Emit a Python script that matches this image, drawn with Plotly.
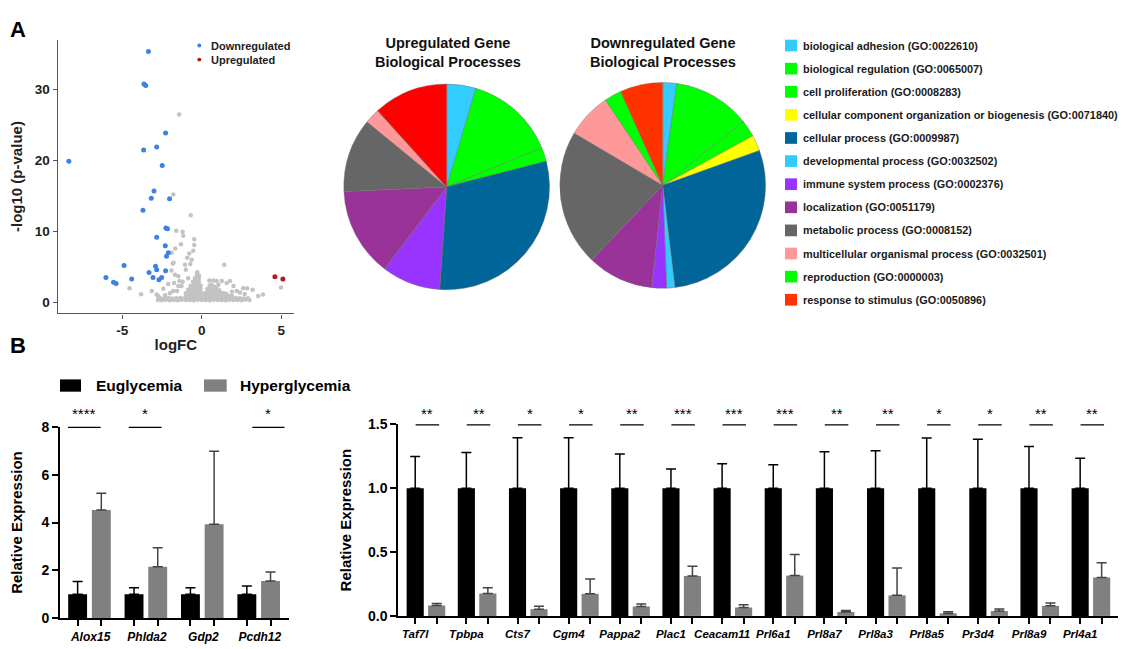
import plotly.graph_objects as go

# The page body has an 8px margin, so the figure is sized to fit the window after that offset.
OFF_X, OFF_Y = 8, 8
W, H = 1126 - OFF_X, 649 - OFF_Y


def px(x):
    return (x - OFF_X) / W


def py(y):
    return 1 - (y - OFF_Y) / H


# ---------------- DATA ----------------
# Volcano plot (logFC, -log10 p)
down_fc = [-3.35, -3.63, -3.52, -8.35, -2.27, -3.65, -2.83, -2.48, -3.0, -3.17, -2.02, -3.69, -2.25, -2.15,
           -2.83, -2.29, -2.1, -2.21, -4.88, -2.9, -2.83, -3.31, -2.27, -6.02, -4.4, -3.06, -2.52, -2.69,
           -5.54, -5.38]
down_p = [35.4, 30.8, 30.6, 19.9, 23.9, 21.5, 21.9, 19.3, 15.7, 14.7, 14.6, 13.0, 10.5, 10.4,
          9.2, 8.0, 7.0, 6.5, 5.2, 5.1, 4.6, 4.2, 4.45, 3.5, 3.3, 3.5, 3.5, 3.2,
          2.85, 2.65]
up_fc = [4.6, 5.1]
up_p = [3.6, 3.3]
ns_points = [
    # scattered non-significant genes
    (-1.42, 26.5), (-1.79, 15.2), (-0.69, 12.3), (-1.6, 10.1), (-1.2, 9.96), (-1.16, 9.4), (-0.47, 8.9),
    (-1.3, 8.2), (-0.47, 8.1), (-1.66, 7.6), (-0.53, 7.3), (-1.89, 7.0), (-0.78, 6.9), (-0.91, 6.3),
    (-0.63, 6.0), (-1.82, 5.5), (1.42, 5.3), (-1.05, 5.3), (-0.72, 5.4), (-2.41, 1.93), (-1.68, 3.9),
    (-1.47, 3.7), (-1.74, 2.75), (-1.4, 3.0), (-1.2, 2.9), (-1.47, 2.3), (-1.27, 2.3), (0.48, 3.08),
    (0.73, 3.08), (0.94, 3.0), (1.05, 2.5), (1.26, 3.0), (1.57, 2.75), (1.78, 3.0), (2.0, 2.3), (2.6, 2.0),
    (2.85, 2.0), (3.2, 1.8), (3.55, 0.9), (3.85, 1.1), (0.94, 2.0), (2.2, 1.6), (2.4, 1.4), (4.98, 2.1),
    (-3.14, 1.6), (-2.83, 1.1), (-2.72, 0.87), (-2.0, 1.3), (-1.8, 1.6), (-4.54, 2.0), (-3.81, 1.15),
    (-1.77, 5.6), (-1.9, 4.5), (-2.1, 2.6), (-1.0, 4.6), (-0.85, 3.4), (1.9, 1.5), (2.7, 1.2), (-2.3, 1.0),
    (-1.55, 1.6),
    # dense base of the cloud
    (-2.75, 0.35), (-2.5, 0.3), (-2.25, 0.38), (-2.0, 0.3), (-1.75, 0.35), (-1.5, 0.3), (-1.25, 0.38),
    (-1.0, 0.32), (-0.75, 0.35), (-0.5, 0.3), (-0.25, 0.38), (0.0, 0.32), (0.25, 0.35), (0.5, 0.3),
    (0.75, 0.38), (1.0, 0.32), (1.25, 0.35), (1.5, 0.3), (1.75, 0.38), (2.0, 0.32), (2.25, 0.35),
    (2.5, 0.3), (2.75, 0.38), (3.0, 0.35),
    (-2.6, 0.58), (-2.35, 0.55), (-2.1, 0.62), (-1.85, 0.55), (-1.6, 0.58), (-1.35, 0.62), (-1.1, 0.55),
    (-0.85, 0.58), (-0.6, 0.55), (-0.35, 0.62), (-0.1, 0.58), (0.15, 0.55), (0.4, 0.62), (0.65, 0.55),
    (0.9, 0.58), (1.15, 0.62), (1.4, 0.55), (1.65, 0.58), (1.9, 0.55), (2.15, 0.62), (2.4, 0.58),
    (2.65, 0.55), (2.9, 0.58),
    # main peak near logFC -0.3
    (-1.0, 0.9), (-1.0, 1.3), (-0.85, 0.9), (-0.85, 1.4), (-0.85, 1.8), (-0.7, 0.9), (-0.7, 1.4),
    (-0.7, 1.9), (-0.7, 2.3), (-0.55, 0.9), (-0.55, 1.4), (-0.55, 1.9), (-0.55, 2.4), (-0.55, 2.9),
    (-0.42, 0.9), (-0.42, 1.4), (-0.42, 1.9), (-0.42, 2.4), (-0.42, 2.9), (-0.42, 3.4), (-0.3, 0.9),
    (-0.3, 1.4), (-0.3, 1.9), (-0.3, 2.4), (-0.3, 2.9), (-0.3, 3.4), (-0.3, 3.9), (-0.28, 4.25),
    (-0.18, 0.9), (-0.18, 1.4), (-0.18, 1.9), (-0.18, 2.4), (-0.18, 2.9), (-0.18, 3.4), (-0.18, 3.8),
    (-0.07, 0.9), (-0.07, 1.4), (-0.07, 1.9), (-0.07, 2.4), (0.03, 0.9), (0.03, 1.2),
    # second peak near logFC 0.6
    (0.2, 0.9), (0.2, 1.3), (0.35, 0.9), (0.35, 1.4), (0.35, 1.9), (0.5, 0.9), (0.5, 1.4), (0.5, 1.9),
    (0.5, 2.4), (0.65, 0.9), (0.65, 1.4), (0.65, 1.9), (0.62, 2.5), (0.8, 0.9), (0.8, 1.4), (0.8, 1.9),
    (0.8, 2.2), (0.95, 0.9), (0.95, 1.4), (0.95, 1.8), (1.1, 0.9), (1.1, 1.4), (1.1, 1.7), (1.25, 0.9),
    (1.25, 1.3), (1.4, 0.9), (1.4, 1.3), (1.55, 0.9), (1.55, 1.2), (1.7, 0.9), (1.9, 0.9),
]
ns_fc = [p[0] for p in ns_points]
ns_p = [p[1] for p in ns_points]

# GO biological processes (percent of genes)
go_labels = ["biological adhesion (GO:0022610)", "biological regulation (GO:0065007)",
             "cell proliferation (GO:0008283)",
             "cellular component organization or biogenesis (GO:0071840)",
             "cellular process (GO:0009987)", "developmental process (GO:0032502)",
             "immune system process (GO:0002376)", "localization (GO:0051179)",
             "metabolic process (GO:0008152)", "multicellular organismal process (GO:0032501)",
             "reproduction (GO:0000003)", "response to stimulus (GO:0050896)"]
go_colors = ["#33CCFF", "#00FF00", "#00FF00", "#FFFF00", "#006699", "#33CCFF",
             "#9933FF", "#993399", "#666666", "#FF9999", "#00FF00", "#FF3300"]
up_colors = ["#33CCFF", "#00FF00", "#00FF00", "#FFFF00", "#006699", "#33CCFF",
             "#9933FF", "#993399", "#666666", "#FF9999", "#00FF00", "#FF0000"]
up_pct = [4.6, 14.2, 2.2, 0, 30.1, 0, 9.2, 14.0, 11.6, 2.4, 0, 11.7]
down_pct = [2.2, 12.2, 2.6, 2.5, 28.6, 1.3, 2.3, 10.4, 21.4, 7.1, 2.7, 6.7]

# qPCR panel (left)
genes_a = ["Alox15", "Phlda2", "Gdp2", "Pcdh12"]
eu_a = [1.0, 1.0, 1.0, 1.0]
eu_a_err = [0.54, 0.28, 0.28, 0.35]
hy_a = [4.52, 2.15, 3.93, 1.56]
hy_a_err = [0.70, 0.80, 3.05, 0.37]
sig_a = ["****", "*", "", "*"]

# qPCR panel (right)
genes_b = ["Taf7l", "Tpbpa", "Cts7", "Cgm4", "Pappa2", "Plac1", "Ceacam11", "Prl6a1",
           "Prl8a7", "Prl8a3", "Prl8a5", "Pr3d4", "Prl8a9", "Prl4a1"]
eu_b = [1.0] * 14
eu_b_err = [0.247, 0.279, 0.394, 0.394, 0.267, 0.15, 0.19, 0.183, 0.285, 0.292, 0.392, 0.382, 0.325, 0.234]
hy_b = [0.081, 0.176, 0.053, 0.173, 0.074, 0.313, 0.066, 0.316, 0.031, 0.161, 0.02, 0.038, 0.079, 0.301]
hy_b_err = [0.016, 0.045, 0.023, 0.117, 0.02, 0.076, 0.021, 0.164, 0.012, 0.214, 0.013, 0.016, 0.023, 0.115]
sig_b = ["**", "**", "*", "*", "**", "***", "***", "***", "**", "**", "*", "*", "**", "**"]

# ---------------- FIGURE ----------------
FONT = "Arial, Liberation Sans, sans-serif"
BLACK_OFF, GREY_OFF, BW = -0.375, 0.045, 0.335
fig = go.Figure()

# Volcano
fig.add_trace(go.Scatter(x=ns_fc, y=ns_p, mode="markers", marker=dict(color="#c3c3c3", size=4.5),
                         xaxis="x", yaxis="y", showlegend=False, hoverinfo="skip"))
fig.add_trace(go.Scatter(x=down_fc, y=down_p, mode="markers", marker=dict(color="#3f80e6", size=5),
                         xaxis="x", yaxis="y", showlegend=False, name="Downregulated"))
fig.add_trace(go.Scatter(x=up_fc, y=up_p, mode="markers", marker=dict(color="#b01c1c", size=5),
                         xaxis="x", yaxis="y", showlegend=False, name="Upregulated"))

# Pies
pie_line = dict(color="rgba(110,110,110,0.7)", width=0.6)
fig.add_trace(go.Pie(labels=go_labels, values=up_pct, sort=False, direction="clockwise", rotation=0,
                     marker=dict(colors=up_colors, line=pie_line), textinfo="none", showlegend=False,
                     domain=dict(x=[px(341.2), px(552.2)], y=[py(288.8), py(77.8)])))
fig.add_trace(go.Pie(labels=go_labels, values=down_pct, sort=False, direction="clockwise", rotation=0,
                     marker=dict(colors=go_colors, line=pie_line), textinfo="none", showlegend=False,
                     domain=dict(x=[px(557.2), px(768.2)], y=[py(287.2), py(76.2)])))

# Left bars
idx_a = list(range(len(genes_a)))
fig.add_trace(go.Bar(x=idx_a, y=eu_a, width=BW, offset=BLACK_OFF, marker=dict(color="black", line_width=0),
                     error_y=dict(type="data", array=eu_a_err, arrayminus=[0] * 4, symmetric=False,
                                  color="black", thickness=1.5, width=5),
                     xaxis="x2", yaxis="y2", showlegend=False, name="Euglycemia"))
fig.add_trace(go.Bar(x=idx_a, y=hy_a, width=BW, offset=GREY_OFF, marker=dict(color="#808080", line_width=0),
                     error_y=dict(type="data", array=hy_a_err, arrayminus=[0] * 4, symmetric=False,
                                  color="#444444", thickness=1.5, width=5),
                     xaxis="x2", yaxis="y2", showlegend=False, name="Hyperglycemia"))

# Right bars
idx_b = list(range(len(genes_b)))
fig.add_trace(go.Bar(x=idx_b, y=eu_b, width=BW, offset=BLACK_OFF, marker=dict(color="black", line_width=0),
                     error_y=dict(type="data", array=eu_b_err, arrayminus=[0] * 14, symmetric=False,
                                  color="black", thickness=1.5, width=5),
                     xaxis="x3", yaxis="y3", showlegend=False, name="Euglycemia"))
fig.add_trace(go.Bar(x=idx_b, y=hy_b, width=BW, offset=GREY_OFF, marker=dict(color="#808080", line_width=0),
                     error_y=dict(type="data", array=hy_b_err, arrayminus=[0] * 14, symmetric=False,
                                  color="#444444", thickness=1.5, width=5),
                     xaxis="x3", yaxis="y3", showlegend=False, name="Hyperglycemia"))

# significance lines
sig_span_a = [(-0.38, 0.2), (-0.3, 0.28), None, (-0.11, 0.46)]
annotations = []
for i, s in enumerate(sig_a):
    if not s:
        continue
    a, b = sig_span_a[i]
    fig.add_trace(go.Scatter(x=[i + a, i + b], y=[8, 8], mode="lines", line=dict(color="black", width=2.5),
                             xaxis="x2", yaxis="y2", cliponaxis=False, showlegend=False, hoverinfo="skip"))
    annotations.append(dict(x=i + (a + b) / 2, y=8, xref="x2", yref="y2", text=s, showarrow=False,
                            xanchor="center", yanchor="bottom", yshift=3,
                            font=dict(family=FONT, size=15, color="black")))
for i, s in enumerate(sig_b):
    a, b = -0.2, 0.26
    fig.add_trace(go.Scatter(x=[i + a, i + b], y=[1.5, 1.5], mode="lines", line=dict(color="black", width=2.5),
                             xaxis="x3", yaxis="y3", cliponaxis=False, showlegend=False, hoverinfo="skip"))
    annotations.append(dict(x=i + (a + b) / 2, y=1.5, xref="x3", yref="y3", text=s, showarrow=False,
                            xanchor="center", yanchor="bottom", yshift=0,
                            font=dict(family=FONT, size=15, color="black")))

# tick positions under every bar
bc = BLACK_OFF + BW / 2
gc = GREY_OFF + BW / 2
tv_a, tt_a = [], []
for i, g in enumerate(genes_a):
    tv_a += [i + bc, i + gc]
    tt_a += [g, ""]
tv_b, tt_b = [], []
for i, g in enumerate(genes_b):
    tv_b += [i + bc, i + gc]
    tt_b += [g, ""]

axis_title_font = dict(family=FONT, size=15, color="black")
tick_font = dict(family=FONT, size=14, color="black", weight="bold")

fig.update_layout(
    width=W, height=H, margin=dict(l=0, r=0, t=0, b=0), paper_bgcolor="white", plot_bgcolor="white",
    barmode="overlay", font=dict(family=FONT),
    xaxis=dict(domain=[px(57.7), px(294)], range=[-9.05, 5.8], tickvals=[-5, 0, 5], ticktext=["-5", "0", "5"],
               showline=True, linecolor="#555", linewidth=1.3, ticks="outside", ticklen=4, tickcolor="#555",
               showgrid=False, zeroline=False, tickfont=dict(family=FONT, size=13.5, color="#222", weight="bold"),
               title=dict(text="<b>logFC</b>", font=dict(family=FONT, size=15, color="#222"), standoff=2),
               anchor="y"),
    yaxis=dict(domain=[py(313), py(32.3)], range=[-1.55, 37.05], tickvals=[0, 10, 20, 30],
               showline=True, linecolor="#555", linewidth=1.3, ticks="outside", ticklen=4, tickcolor="#555",
               showgrid=False, zeroline=False, tickfont=dict(family=FONT, size=13.5, color="#222", weight="bold"),
               title=dict(text="<b>-log10 (p-value)</b>", font=dict(family=FONT, size=15, color="#222"), standoff=8),
               anchor="x"),
    xaxis2=dict(domain=[px(60), px(289)], range=[-0.52, 3.54], tickvals=tv_a, ticktext=tt_a,
                showline=True, linecolor="black", linewidth=2, ticks="outside", ticklen=6, tickwidth=1.5,
                tickcolor="black", showgrid=False, zeroline=False, ticklabelshift=13,
                tickfont=dict(family=FONT, size=12, color="black", weight="bold", style="italic"),
                anchor="y2"),
    yaxis2=dict(domain=[py(625.7), py(429.3)], range=[0, 8], tickvals=[0, 2, 4, 6, 8],
                showline=True, linecolor="black", linewidth=2, ticks="outside", ticklen=6, tickwidth=2,
                tickcolor="black", showgrid=False, zeroline=False, tickfont=tick_font,
                title=dict(text="<b>Relative Expression</b>", font=axis_title_font, standoff=15),
                anchor="x2"),
    xaxis3=dict(domain=[px(398.3), px(1123)], range=[-0.538, 13.63], tickvals=tv_b, ticktext=tt_b,
                showline=True, linecolor="black", linewidth=2, ticks="outside", ticklen=6, tickwidth=1.5,
                tickcolor="black", showgrid=False, zeroline=False,
                tickfont=dict(family=FONT, size=11.5, color="black", weight="bold", style="italic"),
                anchor="y3"),
    yaxis3=dict(domain=[py(623.3), py(426.7)], range=[0, 1.5], tickvals=[0, 0.5, 1.0, 1.5],
                ticktext=["0.0", "0.5", "1.0", "1.5"],
                showline=True, linecolor="black", linewidth=2, ticks="outside", ticklen=6, tickwidth=2,
                tickcolor="black", showgrid=False, zeroline=False, tickfont=tick_font,
                title=dict(text="<b>Relative Expression</b>", font=axis_title_font, standoff=13),
                anchor="x3"),
)

shapes = []


def label(x, y, text, size, color="black", xanchor="center"):
    annotations.append(dict(x=px(x), y=py(y), xref="paper", yref="paper", text=text, showarrow=False,
                            xanchor=xanchor, yanchor="middle", font=dict(family=FONT, size=size, color=color)))


# Panel letters
label(18, 22, "<b>A</b>", 22)
label(18, 346, "<b>B</b>", 22)

# Volcano legend
for yy, col, lab in [(38.3, "#3f80e6", "Downregulated"), (52.7, "#b01c1c", "Upregulated")]:
    shapes.append(dict(type="circle", xref="paper", yref="paper", x0=px(197.3), x1=px(201.3),
                       y0=py(yy + 2), y1=py(yy - 2), fillcolor=col, line_width=0))
    label(209, yy, "<b>" + lab + "</b>", 11, "#222", "left")

# Pie titles
for cx, t in [(447.7, "Upregulated Gene<br>Biological Processes"),
              (663.0, "Downregulated Gene<br>Biological Processes")]:
    label(cx, 45, "<b>" + t + "</b>", 14.5, "#111")

# GO legend
for k, (lab, col) in enumerate(zip(go_labels, go_colors)):
    yy = 38.3 + k * 23.7
    shapes.append(dict(type="rect", xref="paper", yref="paper", x0=px(785), x1=px(797),
                       y0=py(yy + 6), y1=py(yy - 6), fillcolor=col, line_width=0))
    label(801, yy, "<b>" + lab + "</b>", 10.9, "#1a1a1a", "left")

# Bar legend
for x0, x1, col, tx, lab in [(60, 81, "black", 94.3, "Euglycemia"), (204, 226.7, "#808080", 238, "Hyperglycemia")]:
    shapes.append(dict(type="rect", xref="paper", yref="paper", x0=px(x0), x1=px(x1),
                       y0=py(393.3), y1=py(380.7), fillcolor=col, line_width=0))
    label(tx, 387, "<b>" + lab + "</b>", 15.5, "black", "left")

fig.update_layout(shapes=shapes, annotations=annotations)
fig.write_html("out.html")
